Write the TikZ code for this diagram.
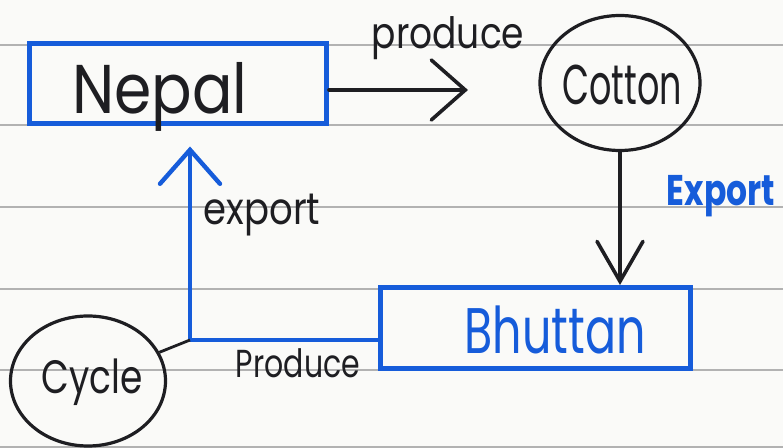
\documentclass[tikz,border=0pt]{standalone}
\usepackage{fontspec}
\usepackage{graphicx}
\setmainfont{Poppins}
\usetikzlibrary{arrows.meta,shapes.geometric}
\definecolor{ink}{RGB}{30,30,34}
\definecolor{pen}{RGB}{22,92,218}
\definecolor{rule}{RGB}{178,178,178}
\definecolor{paper}{RGB}{250,250,248}
% hand-lettered text: size, vertical stretch, text
\newcommand\hw[3]{\fontsize{#1}{#1}\selectfont\scalebox{1}[#2]{#3}}

\begin{document}
\begin{tikzpicture}[x=0.5pt,y=-0.5pt,
  blueframe/.style={draw=pen,line width=2.5pt,inner sep=0pt},
  loop/.style={draw=ink,ellipse,line width=1.6pt,inner sep=0pt},
  hand/.style={text=ink,inner sep=0pt},
  bluehand/.style={text=pen,inner sep=0pt},
  inkarrow/.style={draw=ink,line width=1.8pt,line cap=round},
  penarrow/.style={draw=pen,line width=2.2pt,line cap=round}
]
% ruled notebook paper
\fill[paper] (0,0) rectangle (783,448);
\useasboundingbox (0,0) rectangle (783,448);
\foreach \y in {45,125,207,289,370,447}
  \draw[rule,line width=1pt] (0,\y) -- (783,\y);

% boxes and loops
\node[blueframe,minimum width=148.5pt,minimum height=40pt] (nepal) at (178,84) {};
\node[hand] (nepaltxt) at (160,97) {\hw{30}{1.15}{Nepal}};

\node[loop,minimum width=80pt,minimum height=67.5pt] (cotton) at (620,83) {};
\node[hand] (cottontxt) at (622,85) {\hw{17.5}{1.6}{Cotton}};

\node[blueframe,minimum width=155pt,minimum height=40.5pt] (bhutan) at (535,328) {};
\node[bluehand] (bhutantxt) at (555,330) {\hw{23}{1.4}{Bhuttan}};

\node[loop,minimum width=77.5pt,minimum height=65pt] (cycle) at (88,381) {};
\node[hand] (cycletxt) at (92,382) {\hw{18}{1.3}{Cycle}};

% connectors
\coordinate (pend) at (468,90);
\draw[inkarrow,-{Straight Barb[length=17pt,width=30pt,line cap=round]}]
  (nepal.east |- pend) -- (pend);
\node[hand] (produceA) at (448,38) {\hw{18}{1.2}{produce}};

\draw[inkarrow,-{Straight Barb[length=20pt,width=23pt,line cap=round]}]
  (cotton.south) -- (cotton.south |- bhutan.north);
\node[bluehand] (exportB) at (721,196) {\hw{16.5}{1.3}{\bfseries Export}};

\coordinate (bend) at (190,340);
\draw[penarrow,shorten >=10pt,-{Straight Barb[length=17pt,width=30pt,line cap=round]}]
  (bhutan.west |- bend) -- (bend) -- (bend |- nepal.south);
\node[hand] (exportA) at (262,215) {\hw{18.5}{1.2}{export}};
\node[hand] (produceB) at (298,363) {\hw{15}{1.3}{Produce}};

\draw[draw=ink,line width=1.4pt] (cycle) -- (bend);
\end{tikzpicture}
\end{document}
